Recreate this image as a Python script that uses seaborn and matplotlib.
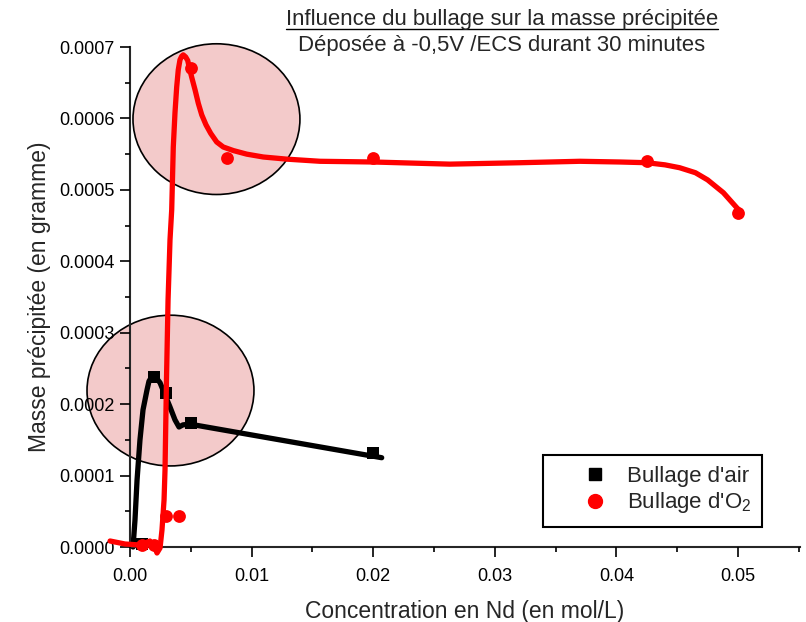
import matplotlib
matplotlib.use("Agg")
import numpy as np
import pandas as pd
import seaborn as sns
import matplotlib.pyplot as plt
from matplotlib.patches import Ellipse
from matplotlib.lines import Line2D
from matplotlib.ticker import MultipleLocator, FormatStrFormatter

# Measured deposits (mol/L, g)
air_conc = [0.001, 0.002, 0.003, 0.005, 0.020]
air_mass = [0.000004, 0.000238, 0.000216, 0.000174, 0.000132]

o2_conc = [0.001, 0.002, 0.003, 0.004, 0.005, 0.008, 0.020, 0.0425, 0.050]
o2_mass = [0.000003, 0.000003, 0.000043, 0.000043, 0.000671,
           0.000544, 0.000544, 0.000541, 0.000467]

# Spline trend traces
air_fit_conc = [0.00025, 0.00041, 0.00058, 0.00082, 0.00107, 0.0014, 0.00156,
                0.00181, 0.00206, 0.00247, 0.00288, 0.00329, 0.0037, 0.00403,
                0.00436, 0.00493, 0.0207]
air_fit_mass = [0.0, 0.0000378, 0.0000938, 0.00015, 0.000192, 0.00022, 0.000232,
                0.000239, 0.000239, 0.00023, 0.000213, 0.000196, 0.000178, 0.000168,
                0.000171, 0.000172, 0.000125]

o2_fit_conc = [-0.00164, -0.00041, 0.00082, 0.00164, 0.00206, 0.00222, 0.00247,
               0.00263, 0.0028, 0.00288, 0.0030, 0.00313, 0.00329, 0.00343,
               0.00356, 0.0037, 0.00384, 0.00397, 0.00411, 0.00425, 0.00438,
               0.00458, 0.00475, 0.00485, 0.00507, 0.00535, 0.00562, 0.0059,
               0.00625, 0.00664, 0.00713, 0.00767, 0.0085, 0.0096, 0.01096,
               0.01289, 0.01563, 0.020, 0.0263, 0.0321, 0.037, 0.0403, 0.0425,
               0.044, 0.0452, 0.0465, 0.0475, 0.0488, 0.0499, 0.0502]
o2_fit_mass = [0.0000084, 0.0000042, 0.0000028, 0.0000084, -0.0000014, -0.0000084,
               -0.0000014, 0.0000238, 0.0000658, 0.000108, 0.000234, 0.000346,
               0.00043, 0.000472, 0.00056, 0.000608, 0.000644, 0.000668, 0.000682,
               0.000687, 0.000689, 0.000686, 0.000681, 0.000673, 0.000658,
               0.00064, 0.000621, 0.000605, 0.000591, 0.000579, 0.000567, 0.00056,
               0.000555, 0.00055, 0.000546, 0.000543, 0.00054, 0.000539, 0.000536,
               0.000538, 0.00054, 0.000539, 0.000538, 0.000535, 0.000531, 0.000524,
               0.000514, 0.000496, 0.000475, 0.00047]

air_pts = pd.DataFrame({"conc": air_conc, "mass": air_mass})
o2_pts = pd.DataFrame({"conc": o2_conc, "mass": o2_mass})
air_fit = pd.DataFrame({"conc": air_fit_conc, "mass": air_fit_mass})
o2_fit = pd.DataFrame({"conc": o2_fit_conc, "mass": o2_fit_mass})

sns.set_style("ticks")
plt.rcParams["font.family"] = ["Liberation Sans", "DejaVu Sans"]
plt.rcParams["mathtext.default"] = "regular"

fig = plt.figure(figsize=(8.06, 6.22), dpi=100)
ax = fig.add_axes([130 / 806, 75 / 622, 670 / 806, 500 / 622])
ax.set_axisbelow(False)

# Highlight regions
for cx, cy in [(0.00711, 0.000599), (0.00333, 0.000219)]:
    ax.add_patch(Ellipse((cx, cy), 0.01373, 0.000211, facecolor="#f3caca",
                         edgecolor="black", linewidth=1.2, zorder=1, clip_on=False))

sns.lineplot(data=air_fit, x="conc", y="mass", sort=False, color="black",
             linewidth=3.8, solid_joinstyle="round", solid_capstyle="round",
             zorder=2, clip_on=False, ax=ax)
sns.scatterplot(data=air_pts, x="conc", y="mass", marker="s", s=75, color="black",
                edgecolor="black", linewidth=0, zorder=3, clip_on=False, ax=ax)
sns.lineplot(data=o2_fit, x="conc", y="mass", sort=False, color="#ff0000",
             linewidth=3.8, solid_joinstyle="round", solid_capstyle="round",
             zorder=4, clip_on=False, ax=ax)
sns.scatterplot(data=o2_pts, x="conc", y="mass", marker="o", s=85, color="#ff0000",
                edgecolor="#ff0000", linewidth=0, zorder=5, clip_on=False, ax=ax)

ax.set_xlim(0, 0.0551)
ax.set_ylim(0, 0.0007)
ax.xaxis.set_major_locator(MultipleLocator(0.01))
ax.xaxis.set_minor_locator(MultipleLocator(0.005))
ax.yaxis.set_major_locator(MultipleLocator(0.0001))
ax.yaxis.set_minor_locator(MultipleLocator(0.00005))
ax.xaxis.set_major_formatter(FormatStrFormatter("%.2f"))
ax.yaxis.set_major_formatter(FormatStrFormatter("%.4f"))

for side in ("top", "right"):
    ax.spines[side].set_visible(False)
for side in ("left", "bottom"):
    ax.spines[side].set_linewidth(1.5)

ax.tick_params(axis="both", which="major", direction="out", length=7.2, width=1.2,
               colors="black")
ax.tick_params(axis="both", which="minor", direction="out", length=3.6, width=1.2,
               colors="black")
ax.tick_params(axis="y", which="major", labelsize=13, pad=4)
ax.tick_params(axis="x", which="major", labelsize=13, pad=8)

ax.set_xlabel("Concentration en Nd (en mol/L)", fontsize=16.5, labelpad=11)
ax.set_ylabel("Masse précipitée (en gramme)", fontsize=16.5, labelpad=6)

handles = [
    Line2D([], [], linestyle="none", marker="s", markersize=9, color="black"),
    Line2D([], [], linestyle="none", marker="o", markersize=10, color="#ff0000"),
]
leg = ax.legend(handles, ["Bullage d'air", "Bullage d'O$_2$"],
                loc="upper left", bbox_to_anchor=(543 / 806, 1 - 455 / 622),
                bbox_transform=fig.transFigure, borderaxespad=0, fontsize=16,
                frameon=True, fancybox=False, handlelength=3.68, handletextpad=-0.41,
                borderpad=0.5, labelspacing=0.15)
leg.get_frame().set_edgecolor("black")
leg.get_frame().set_linewidth(1.5)
leg.get_frame().set_facecolor("white")
leg.get_frame().set_alpha(1)

title = fig.text(502 / 806, 1 - 19 / 622, "Influence du bullage sur la masse précipitée",
                 ha="center", va="center", fontsize=15.9)
fig.text(502 / 806, 1 - 45 / 622, "Déposée à -0,5V /ECS durant 30 minutes",
         ha="center", va="center", fontsize=15.9)

# Underline the first title line
renderer = fig.canvas.get_renderer()
bb = title.get_window_extent(renderer)
y_line = (bb.y0 + 1) / fig.bbox.height
fig.add_artist(Line2D([bb.x0 / fig.bbox.width, bb.x1 / fig.bbox.width], [y_line, y_line],
                      transform=fig.transFigure, color="black", linewidth=1.0))

fig.savefig("out.png", dpi=100)
